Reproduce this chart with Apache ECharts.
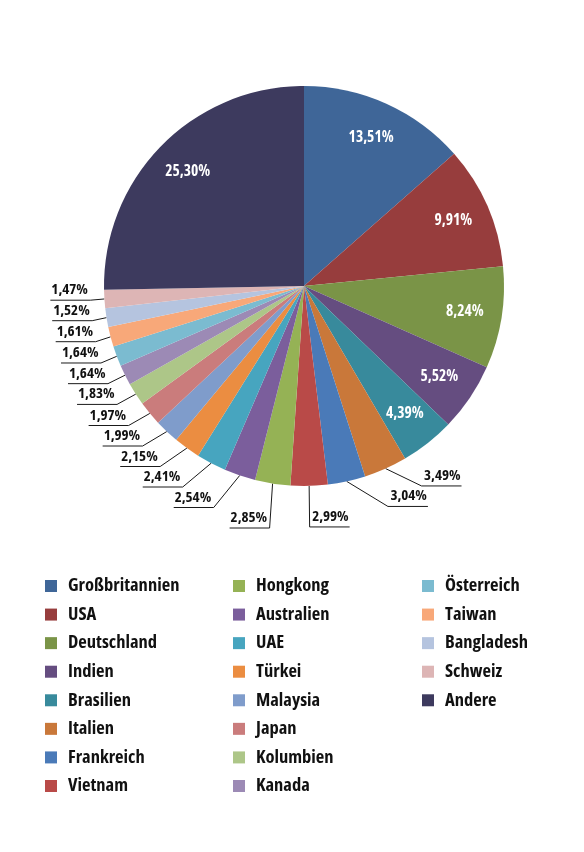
<!DOCTYPE html>
<html>
<head>
<meta charset="utf-8">
<title>Anteile nach Ländern</title>
<style>
  html, body { margin: 0; padding: 0; background: #fff; }
  #chart { width: 584px; height: 852px; }
</style>
<script src="https://cdn.jsdelivr.net/npm/echarts@6/dist/echarts.min.js"></script>
</head>
<body>
<div id="chart"></div>
<script>
// Länder in Reihenfolge der Legende (gleichzeitig Reihenfolge im Kreis, im Uhrzeigersinn ab 12 Uhr)
var countries = [
  'Großbritannien', 'USA', 'Deutschland', 'Indien', 'Brasilien', 'Italien', 'Frankreich',
  'Vietnam', 'Hongkong', 'Australien', 'UAE', 'Türkei', 'Malaysia', 'Japan', 'Kolumbien',
  'Kanada', 'Österreich', 'Taiwan', 'Bangladesh', 'Schweiz', 'Andere'
];

// Anteile in Prozent
var shares = [
  13.51, 9.91, 8.24, 5.52, 4.39, 3.49, 3.04,
  2.99, 2.85, 2.54, 2.41, 2.15, 1.99, 1.97, 1.83,
  1.64, 1.64, 1.61, 1.52, 1.47, 25.30
];

var colors = [
  '#3F6698', '#973D3D', '#7A9447', '#654D80', '#388A9C', '#C9783A', '#4A7AB8',
  '#B94A48', '#95B255', '#7B5E9C', '#47A5BF', '#EB8D41', '#7F9CCB', '#CA7C7C', '#ADC688',
  '#9C8AB5', '#7BBBD0', '#F8A879', '#B5C4DF', '#DDB5B5', '#3D3A5E'
];

// schmale fette Schrift (Open Sans condensed)
var font = "'Open Sans', sans-serif";
var weight = 'bold condensed';
var insideMin = 4; // ab diesem Wert steht die Beschriftung im Segment

var chart = echarts.init(document.getElementById('chart'));

function fmt(v) {
  return v.toFixed(2).replace('.', ',') + '%';
}

var pieData = countries.map(function (name, i) {
  var outside = shares[i] < insideMin;
  return {
    name: name,
    value: shares[i],
    itemStyle: { color: colors[i] },
    label: { show: outside },
    labelLine: { show: outside }
  };
});

// zweite, unsichtbare Ringserie nur für die Innenbeschriftungen (weiter außen als Radiusmitte)
var innerLabelData = shares.map(function (v) {
  return { value: v, label: { show: v >= insideMin } };
});

var legendStarts = [0, 8, 16];
var legendLeft = [45, 233, 422];

var option = {
  backgroundColor: '#fff',
  animation: false,
  legend: legendStarts.map(function (start, k) {
    return {
      orient: 'vertical',
      left: legendLeft[k],
      top: 576,
      padding: 0,
      data: countries.slice(start, start + 8),
      icon: 'rect',
      itemWidth: 12,
      itemHeight: 12,
      itemGap: 8.57,
      selectedMode: false,
      textStyle: {
        fontFamily: font,
        fontWeight: weight,
        fontSize: 18.5,
        color: '#111',
        lineHeight: 20,
        padding: [0, 0, 0, 6]
      }
    };
  }),
  series: [
    {
      type: 'pie',
      center: [304, 286],
      radius: 200,
      startAngle: 90,
      clockwise: true,
      avoidLabelOverlap: true,
      data: pieData,
      emphasis: { scale: false },
      label: {
        position: 'outside',
        formatter: function (p) { return fmt(p.value); },
        fontFamily: font,
        fontWeight: weight,
        fontSize: 15,
        color: '#111',
        lineHeight: 18.5,
        width: 44
      },
      labelLine: {
        length: 19,
        length2: 40,
        lineStyle: { color: '#1a1a1a', width: 1 }
      },
      // Text auf die waagerechte Linie setzen (unterstrichen)
      labelLayout: function (p) {
        var pts = p.labelLinePoints;
        if (!pts) return {};
        var left = pts[2][0] < pts[1][0];
        return {
          x: pts[2][0] + (left ? 1 : -1),
          y: pts[2][1] - 1,
          align: left ? 'left' : 'right',
          verticalAlign: 'bottom',
          labelLinePoints: pts
        };
      }
    },
    {
      type: 'pie',
      center: [304, 286],
      radius: [120, 200],
      startAngle: 90,
      clockwise: true,
      silent: true,
      data: innerLabelData,
      itemStyle: { color: 'rgba(0,0,0,0)' },
      emphasis: { disabled: true },
      label: {
        position: 'inside',
        formatter: function (p) { return fmt(p.value); },
        fontFamily: font,
        fontWeight: weight,
        fontSize: 15.5,
        color: '#fff'
      },
      labelLine: { show: false }
    }
  ]
};

chart.setOption(option);

window.addEventListener('resize', function () {
  chart.resize();
});
</script>
</body>
</html>
